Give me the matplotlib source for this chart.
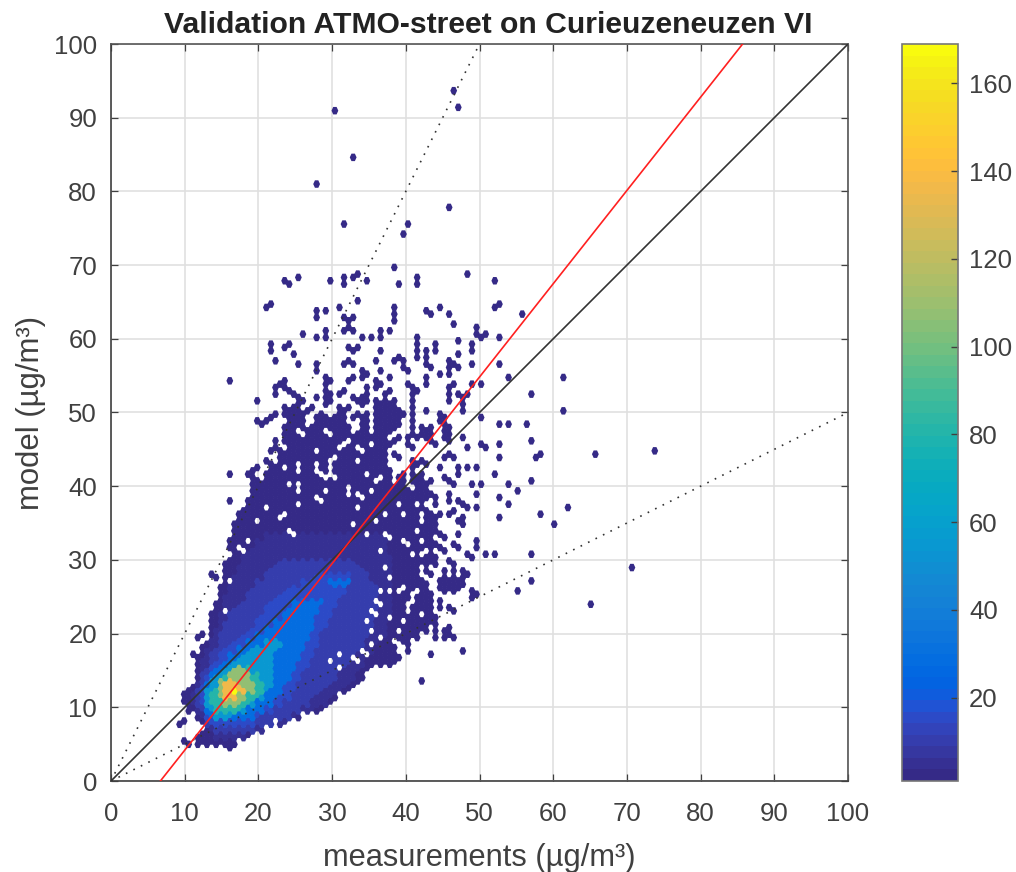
import numpy as np
import matplotlib
matplotlib.use('Agg')
import matplotlib.pyplot as plt
from matplotlib.colors import ListedColormap

plt.rcParams['font.family'] = ['Liberation Sans', 'DejaVu Sans']

# parula, 64 steps
parula = [
    [.2081, .1663, .5292], [.2116, .1898, .5777], [.2123, .2138, .6270], [.2081, .2386, .6771],
    [.1959, .2645, .7279], [.1707, .2919, .7792], [.1253, .3242, .8303], [.0591, .3598, .8683],
    [.0117, .3875, .8820], [.0060, .4086, .8828], [.0165, .4266, .8786], [.0329, .4430, .8720],
    [.0498, .4586, .8641], [.0629, .4737, .8554], [.0723, .4887, .8467], [.0779, .5040, .8384],
    [.0793, .5200, .8312], [.0749, .5375, .8263], [.0641, .5570, .8240], [.0488, .5772, .8228],
    [.0343, .5966, .8199], [.0265, .6137, .8135], [.0239, .6287, .8038], [.0231, .6418, .7913],
    [.0228, .6535, .7768], [.0267, .6642, .7607], [.0384, .6743, .7436], [.0590, .6838, .7254],
    [.0843, .6928, .7062], [.1133, .7015, .6859], [.1453, .7098, .6646], [.1801, .7177, .6424],
    [.2178, .7250, .6193], [.2586, .7317, .5954], [.3022, .7376, .5712], [.3482, .7424, .5473],
    [.3953, .7459, .5244], [.4420, .7481, .5033], [.4871, .7491, .4840], [.5300, .7491, .4661],
    [.5709, .7485, .4494], [.6099, .7473, .4337], [.6473, .7456, .4188], [.6834, .7435, .4044],
    [.7184, .7411, .3905], [.7525, .7384, .3768], [.7858, .7356, .3633], [.8185, .7327, .3498],
    [.8507, .7299, .3360], [.8824, .7274, .3217], [.9139, .7258, .3063], [.9450, .7261, .2886],
    [.9739, .7314, .2666], [.9938, .7455, .2403], [.9990, .7653, .2164], [.9955, .7861, .1967],
    [.9880, .8066, .1794], [.9789, .8271, .1633], [.9697, .8481, .1475], [.9626, .8705, .1309],
    [.9589, .8949, .1132], [.9598, .9218, .0948], [.9661, .9514, .0755], [.9763, .9831, .0538]]

# hexagon lattice of the density plot, in ug/m3
DX = 0.62
DY = 0.905

# filled stretches of the cloud: model value, then (from, to) in measurements
mass_rows = [
    (4.5, [(15.9, 16.2)]),
    (5.4, [(10, 10.4), (12, 12.3), (13.3, 17)]),
    (6.3, [(11.8, 12.6), (13.3, 18.5)]),
    (7.2, [(13, 20.5)]),
    (8.1, [(9.6, 10), (12.4, 21.6), (23, 23.5)]),
    (9.0, [(11.6, 24.5), (25, 25.6)]),
    (9.9, [(10.5, 26.6), (27.5, 28.5)]),
    (10.8, [(10, 29.5)]),
    (11.7, [(10.1, 30.5)]),
    (12.6, [(10.3, 11), (11.4, 32)]),
    (13.5, [(11.5, 33.5), (42, 42.3)]),
    (14.4, [(11.6, 34)]),
    (15.3, [(11.7, 34.5)]),
    (16.2, [(11.8, 35.5), (36, 37.5), (37.8, 38.5)]),
    (17.1, [(11.4, 11.7), (12.3, 36), (36.5, 39), (43.2, 43.4)]),
    (18.0, [(12.7, 37), (37.5, 38.5), (40, 40.3), (47.7, 48)]),
    (18.9, [(13, 38), (39.8, 40.6)]),
    (19.8, [(12, 12.5), (13.4, 39), (39.5, 41.5), (44, 44.2), (45.3, 46.5)]),
    (20.7, [(13.8, 38.5), (39.5, 43), (44, 44.3), (45.3, 45.8)]),
    (21.6, [(13.7, 39), (40, 41), (41.5, 43.8)]),
    (22.5, [(13.9, 39.5), (40, 41.5), (43, 44.3)]),
    (23.4, [(14.1, 39.5), (41, 42.5), (43, 43.5), (44.6, 44.8), (45.9, 46.2)]),
    (24.3, [(14.3, 39.8), (41.5, 43.3), (44.6, 44.8)]),
    (25.2, [(14.6, 40.5), (41.5, 42), (42.6, 43.3), (49, 49.3)]),
    (26.1, [(14.8, 39.8), (40, 41), (42.2, 43), (44.6, 45.8), (46.5, 47), (55, 55.2)]),
    (27.0, [(15.3, 41), (41.8, 42.5), (44.6, 45), (45.8, 46), (47, 48)]),
    (27.9, [(13.4, 14), (15.5, 41.5), (43.3, 43.6), (45.3, 45.5), (46.5, 46.7), (47.9, 48.1)]),
    (28.8, [(15.2, 40.5), (41, 41.5), (42.6, 43)]),
    (29.7, [(15.6, 41), (41.5, 42.5), (43, 44), (46, 46.2)]),
    (30.6, [(16.6, 40.5), (41.5, 41.8), (43, 44.2)]),
    (31.5, [(16.1, 40.5), (41, 42), (43.3, 43.5), (44.5, 45.2)]),
    (32.4, [(16.2, 40.5), (41, 41.4), (42.5, 44)]),
    (33.3, [(16.5, 40), (41, 42.5), (43, 43.5), (44.5, 45)]),
    (34.2, [(16.8, 39.5), (40.3, 41), (42, 43.8)]),
    (35.1, [(17, 39.5), (40.5, 41.5), (42.8, 43.8)]),
    (36.0, [(17.3, 39.3), (40, 41.5), (43, 44.5)]),
    (36.9, [(18, 39), (39.8, 41.5), (42, 43)]),
    (37.8, [(18.5, 38.6), (39.5, 41), (42, 42.4)]),
    (38.7, [(19, 38), (38.5, 40.8), (41.5, 43.8), (44, 44.3)]),
    (39.6, [(19, 37.8), (38.3, 40), (41.5, 43)]),
    (40.5, [(19.5, 38), (39, 39.8), (41, 43.5)]),
    (41.4, [(18.4, 19.2), (21.2, 38), (39, 39.5), (41, 42)]),
    (42.3, [(19.5, 19.8), (22, 23), (24, 37.8), (40.7, 41)]),
    (43.2, [(20.8, 22), (23, 25), (26, 27), (28, 29), (30.3, 37), (41, 42.5)]),
    (44.1, [(23, 24), (25, 27), (28, 29.5), (31, 32.5), (33, 37), (38.5, 39)]),
    (45.0, [(21.8, 23), (24, 27), (28.5, 30.5), (31.5, 33), (35, 37.5), (40.7, 41)]),
    (45.9, [(22.4, 22.6), (23.8, 25.5), (26, 28.5), (29, 31), (33, 35), (36, 37), (38, 38.5), (40, 40.5)]),
    (46.8, [(23.7, 25.5), (26.4, 27.3), (28.2, 29), (30.5, 32), (33, 34.6), (35.5, 37.3), (39, 39.2), (40.5, 43.6)]),
    (47.7, [(23.7, 25), (26, 27), (27.6, 28.7), (29.6, 32), (34, 35), (36, 36.7), (37.4, 38.7), (40.7, 41), (42, 43)]),
    (48.6, [(19.8, 21.2), (24.4, 26), (28, 29), (29.6, 31.5), (34, 35), (36.2, 37), (38, 39), (40.7, 41)]),
    (49.5, [(21.7, 22.6), (23.7, 26), (28, 29.4), (30.5, 31.9), (33, 35), (36, 37), (37.6, 39.5), (40.7, 41), (44.5, 45.5)]),
    (50.4, [(23.7, 25.6), (26.9, 27), (30.7, 32.1), (36, 39), (40.7, 41), (42.5, 42.7)]),
    (51.3, [(25.6, 25.8), (28.9, 29.1), (33.4, 34.8), (36, 38), (40.7, 41)]),
]

# single cells away from the cloud: measurements, model
loose_x = [30.2, 46.4, 47.1, 32.8, 27.6, 45.8, 31.5, 40.6, 39.9, 38.6, 48.4, 23.7, 24.3, 25.6, 29.5, 31.5, 31.5,
           32.8, 33.4, 34.7, 41.3, 41.3, 39.3, 52.3, 21.1, 21.7, 33.4, 27.6, 28.2, 28.9, 30.8, 31.5, 32.1, 32.8,
           38.6, 38.6, 38.6, 42.5, 43.2, 44.5, 45.8, 46.4, 52.3, 55.5, 31.5, 32.1, 32.8, 26.2, 28.2, 28.9, 28.9,
           34.1, 35.4, 36.7, 36.7, 38, 41.3, 41.3, 47, 49.7, 49.7, 50.3, 51, 52.9, 43.8, 49, 21.7, 23.7, 24.3,
           15.9, 15.9, 15.9, 21.8, 23.7, 24.4, 25, 32, 32.7, 33.4, 36.7, 41.3, 42.5, 43.8, 22.4, 25.6, 27.6, 28.1,
           31.4, 32, 32.7, 36, 38.6, 39.3, 41.3, 42.5, 43, 39.9, 44.5, 45.8, 45.8, 23.7, 29.1, 29.5, 34.1, 34.8,
           34.1, 32.5, 32.7, 36.7, 38, 42.5, 42.5, 22.4, 23, 23.7, 22.4, 24.4, 25, 28.9, 28.9, 28.9, 31.4, 30.7,
           30, 29.6, 36, 36.7, 36, 38, 37.4, 40, 40.7, 41.3, 19.8, 25.6, 27.6, 34.1, 33.4, 32.7, 34.1, 34.8, 34.8,
           36, 36.7, 37.4, 38.6, 40.7, 40.7,
           44.6, 42.6, 43.3, 45.9, 46.5, 52.4, 55.6, 47.2, 53, 44, 47.2, 49.2, 49.2, 39.4, 40, 41.3, 42.6, 42.6,
           43.3, 44.6, 45.9, 45.9, 46.5, 47.2, 52.4, 53.7, 50.4, 49.2, 61.5, 56.9, 61.5, 40, 40.7, 41.3, 42.6, 42.6,
           46.5, 45.9, 45.9, 45.9, 47.2, 47.8, 48.5, 47.8, 47.8, 42.6, 44.6, 45.3, 45.9, 43.3, 50.4, 52.4, 53.7,
           56.3, 45.3, 45.9, 45.3, 45.9, 47.8, 50.4, 52.4, 56.9, 48.5, 51.1, 52.4, 58.2, 66, 73.9, 44, 43.3,
           45.3, 45.9, 46.5, 47.2, 47.2, 46.5, 45.9, 45.3, 44.6, 48.5, 49.7, 49.2, 50.4, 49.7, 51.8, 53.7, 56.9,
           53, 55, 53.7, 62.1, 58.2, 60.2, 52.4, 49.7, 47.3, 47.8, 48.5, 45.9, 45.9, 44, 46.5, 45.9, 47.8, 47.2,
           47.8, 47.2, 49.7, 49.7, 46.5, 47.2, 51.8, 51.1, 48.5, 49.2, 56.9, 45.9, 45.3, 46.5, 47.9, 47.9, 47.2,
           46.5, 45.9, 44.6, 56.9, 70.6, 55, 49.2, 64.8, 45.9, 44.6, 44.6, 64.8, 57.5, 58.2]
loose_y = [91.4, 93.6, 91.4, 84.2, 80.6, 78, 75.3, 75.3, 73.9, 69.5, 69.1, 68.2, 67.7, 68.6, 67.7, 68.1, 67.2,
           68.2, 68.6, 67.7, 68.6, 67.7, 67.3, 68.1, 64.5, 65, 65, 63.6, 63.2, 63.6, 64.1, 62.8, 62.4, 62.8,
           64.2, 63.3, 62.3, 64.1, 63.6, 64.5, 63.6, 62.3, 64.5, 63.2, 61, 61.5, 61, 61, 60.6, 61, 60.1,
           60.1, 60.1, 61, 60.1, 61, 60.6, 59.7, 60.1, 61.8, 61, 60.6, 61, 60.6, 58.9, 58.9, 58.9, 59.2, 59.7,
           54.6, 41.2, 37.6, 58.7, 59.2, 59.6, 58.3, 58.7, 58.3, 58.7, 58.3, 58, 58, 58.7, 57.3, 56.8, 56.3, 55.9,
           56.3, 56.8, 56.3, 56.8, 56.8, 57.2, 58, 58, 56.3, 55.9, 55.4, 56.8, 55.4, 54.6, 55, 54.6, 55.4, 55,
           54.6, 54.2, 54.6, 55.4, 54.6, 55, 54.2, 53.8, 53.4, 53.8, 52.9, 52.9, 52.4, 54.2, 53.3, 52.4, 53.3, 52.9,
           52.4, 52, 54.2, 53.8, 53.3, 53.3, 52.4, 54.2, 53.8, 53.3, 52, 51.6, 52, 52.4, 52, 52, 51.6, 53.3, 52.4,
           51.6, 51.1, 51.1, 51.6, 52.2, 51.3,
           64.6, 64.1, 63.5, 63.6, 62.2, 64.6, 63.2, 60, 60.5, 58.7, 58.3, 58.7, 56.9, 57.4, 56, 57.8, 57.8, 56.9,
           56.4, 55.5, 56.4, 55.5, 56.9, 56.4, 56.4, 54.6, 54.2, 54.2, 54.6, 52.4, 50.1, 54.2, 53.7, 53.3, 55.1, 54.2,
           54.2, 53.7, 52.8, 51.9, 52.8, 52.4, 52.8, 51.5, 50.6, 50.6, 49.2, 48.7, 48.3, 48.3, 49.7, 48.3, 48.3,
           48.3, 47.4, 47.4, 46.5, 45.8, 47, 46, 45.7, 46.1, 44.8, 44.8, 43.9, 44.3, 44.3, 45.2, 45.4, 46.6,
           43.5, 44, 43.5, 42.2, 41.3, 40.6, 41.1, 41.5, 42.2, 42.1, 42.1, 40.7, 40.7, 39.3, 41.6, 40.2, 40.7,
           38.9, 39.4, 37.6, 37.1, 36.2, 34.9, 35.8, 36.7, 37.7, 37.2, 36.8, 38.6, 37.7, 37.2, 36.3, 35.8, 35.4, 35,
           34.5, 33.1, 32.2, 31.3, 31.8, 31.3, 30.9, 30.4, 30.4, 30, 30.9, 29.5, 28.2, 28.2, 28.2, 27.3, 26.8,
           26.5, 26.8, 26.8, 27.3, 28.6, 25.9, 25.4, 23.7, 23.2, 24.3, 23.2, 23.7, 44.3, 44.3]

# white gaps inside the cloud
hole_x = [27.7, 29, 28.4, 32.3, 32.3, 33.6, 34.2, 33.6, 32.9, 34.9, 34.9, 36.1, 37.4, 36.7, 37.4, 38.1, 37.5, 37.9,
          39.4, 40.1, 35.4, 35.8, 36.5, 28.8, 29.5, 30.2, 25.6, 25.6, 25.6, 33.6, 36.8, 36.1, 36.7, 35.5, 36.1, 34.9,
          38.1, 35.5, 35.5, 36.7, 34.2, 34.9, 31, 29.6, 31, 32.9, 33.6, 38.1, 38.8, 39.4, 24.4, 25.6, 28.9, 32.1,
          32.1, 28.2, 25.5, 21.1, 23, 23.7, 33.4, 32.8, 24.3, 18.1, 18.7, 17.1, 33.4, 34, 35.9, 37.3, 34.8, 36.6,
          37.3, 38, 28, 28.9, 30, 27.6, 34.8, 29.8, 30, 16, 15.2, 15.2, 19.9, 12, 24.5]
hole_y = [43, 39.5, 38, 39.9, 39, 39, 38.6, 37.1, 34.9, 41.6, 33.6, 35.4, 36.3, 31.3, 29.1, 27.7, 33.4, 32.7,
          32.2, 31.7, 39.5, 40.4, 40.8, 41.7, 42, 41.3, 42.4, 37.2, 39.7, 43.3, 25.9, 24.6, 24.1, 23.2, 22.8, 22,
          22.4, 20.6, 18.8, 19.6, 17.9, 17.4, 17.4, 16.5, 15.6, 16.4, 16, 25.9, 25.7, 25.9, 39.9, 39.9, 39.5, 39.9,
          39, 38.1, 37.2, 36.7, 36.1, 36.6, 38.8, 34.9, 33.6, 31.5, 32.7, 31.3, 38.8, 38.3, 35.4, 36.3, 33.6, 31.3,
          29.1, 27.7, 41.9, 41.5, 41.3, 43, 41.6, 43.5, 42.6, 26.9, 23.4, 22.7, 35, 7, 33.5]

# density bands, lightest first: count per cell, then (model, from, to)
band_5 = [(6.3, 14, 18), (7.2, 13.5, 21), (8.1, 13, 23.5), (9, 12.3, 25), (9.9, 11.8, 27), (10.8, 11, 29), (11.7, 11, 30),
          (12.6, 11.8, 31), (13.5, 12, 32.5), (14.4, 12.2, 33), (15.3, 12.3, 33.5), (16.2, 12.6, 34), (17.1, 13, 35),
          (18, 13.3, 35.5), (18.9, 13.7, 36), (19.8, 14, 37), (20.7, 14.5, 37), (21.6, 14.6, 37.5), (22.5, 15, 38),
          (23.4, 15.2, 38), (24.3, 15.5, 38), (25.2, 15.8, 38), (26.1, 16, 38), (27, 16.6, 38), (27.9, 17, 38),
          (28.8, 17.2, 38), (29.7, 17.8, 38), (30.6, 18, 38), (31.5, 19, 37.5), (32.4, 20, 37), (33.3, 21, 37)]
band_9 = [(7.2, 14, 19), (8.1, 13.2, 22), (9, 12.8, 24), (9.9, 12.3, 25.5), (10.8, 11.9, 26.5), (11.7, 11.8, 27.5),
          (12.6, 11.9, 28.5), (13.5, 12.2, 29.5), (14.4, 12.5, 30.5), (15.3, 13, 31), (16.2, 13.4, 32), (17.1, 13.8, 33),
          (18, 14.3, 33.5), (18.9, 14.7, 34), (19.8, 15, 34.5), (20.7, 15.3, 35), (21.6, 15.8, 35.5), (22.5, 16.3, 36),
          (23.4, 17, 36), (24.3, 17.8, 36), (25.2, 18.5, 36), (26.1, 19, 36), (27, 20, 35.5), (27.9, 21, 35),
          (28.8, 22, 34), (29.7, 23, 33)]
band_16 = [(8.1, 13.5, 19), (9, 13.2, 20), (9.9, 12.8, 22), (10.8, 12.5, 23), (11.7, 12.4, 24), (12.6, 12.5, 24.5),
           (13.5, 12.8, 25), (14.4, 13.2, 25.5), (15.3, 13.8, 26), (16.2, 14.5, 26.5), (17.1, 15, 27), (18, 15.8, 27.5),
           (18.9, 17, 27.8), (19.8, 18, 28), (20.7, 19, 28.5), (21.6, 20, 29), (22.5, 20.5, 29.5), (23.4, 21, 30),
           (24.3, 22, 30.5), (25.2, 23, 31), (26.1, 24, 31.5), (27, 26, 32), (27.9, 28, 32.5)]
band_28 = [(9, 13.8, 19), (9.9, 13.2, 20.5), (10.8, 13, 21.5), (11.7, 13, 22.5), (12.6, 13, 23), (13.5, 13.3, 23.5),
           (14.4, 13.8, 24), (15.3, 14.5, 24.5), (16.2, 15.2, 25), (17.1, 16.2, 25.5), (18, 17.2, 26), (18.9, 18.5, 26),
           (19.8, 20, 26.5), (20.7, 21, 27), (21.6, 22.5, 27), (22.5, 23.5, 27.5), (23.4, 24, 28), (24.3, 25, 28.5),
           (27, 30, 32)]
band_55 = [(9, 14.3, 16.2), (9.9, 13.4, 18), (10.8, 13, 19.3), (11.7, 13, 20.7), (12.6, 13.2, 21.3), (13.5, 13.7, 21.6),
           (14.4, 14.3, 21.8), (15.3, 15.7, 21.6), (16.2, 17, 21.5), (17.1, 18, 22), (18, 19.5, 22.5), (18.9, 21, 23)]
band_80 = [(9.9, 14.3, 17.3), (10.8, 13.7, 18.6), (11.7, 13.9, 19.8), (12.6, 14.1, 20.4), (13.5, 14.6, 20.4),
           (14.4, 15.7, 19.8), (15.3, 17, 18.9)]
band_108 = [(10.8, 15.2, 17.3), (11.7, 14.6, 18), (12.6, 14.8, 19.1), (13.5, 15, 19.3), (14.4, 16.1, 18.9), (15.3, 16.8, 17.7)]
band_135 = [(11.7, 15.5, 17), (12.6, 15.7, 18.2), (13.5, 15.2, 16.5)]
peak_x = [16.6]
peak_y = [12.1]
peak_count = [169]

# diagonals through the origin and the fitted line
ref_x = [0, 100]
one_to_one = [0, 100]
twice_x = [0, 50]
twice_y = [0, 100]
half_y = [0, 50]
fit_x = [6.7, 85.7]
fit_y = [0, 100]

ticks = list(range(0, 101, 10))
cbar_ticks = list(range(20, 161, 20))


def cell_of(x, y):
    i = int(round(x / DX))
    j = int(round((y - (i % 2) * DY / 2) / DY))
    return i, j


def cell_center(i, j):
    return i * DX, j * DY + (i % 2) * DY / 2


def fill_span(cells, y, x0, x1, count):
    for i in range(int(round(x0 / DX)), int(round(x1 / DX)) + 1):
        cells[cell_of(i * DX, y)] = count


cells = {}
for y, spans in mass_rows:
    for x0, x1 in spans:
        fill_span(cells, y, x0, x1, 2)
for x, y in zip(hole_x, hole_y):
    cells.pop(cell_of(x, y), None)
for x, y in zip(loose_x, loose_y):
    cells[cell_of(x, y)] = 1
for count, band in [(5, band_5), (9, band_9), (16, band_16), (28, band_28), (55, band_55),
                    (80, band_80), (108, band_108), (135, band_135)]:
    for y, x0, x1 in band:
        for i in range(int(round(x0 / DX)), int(round(x1 / DX)) + 1):
            key = cell_of(i * DX, y)
            if key in cells:
                cells[key] = count
for x, y, c in zip(peak_x, peak_y, peak_count):
    cells[cell_of(x, y)] = c

keys = list(cells)
xs = [cell_center(*k)[0] for k in keys]
ys = [cell_center(*k)[1] for k in keys]
vals = [cells[k] for k in keys]

fig = plt.figure(figsize=(10.16, 8.72), dpi=100)
ax = fig.add_axes([111 / 1016, 1 - 781 / 872, 737 / 1016, 737 / 872])
dark = '#404040'

hexagon = [(-1, 0), (-.5, 1.1), (.5, 1.1), (1, 0), (.5, -1.1), (-.5, -1.1)]
sc = ax.scatter(xs, ys, c=vals, s=29, marker=hexagon, cmap=ListedColormap(parula),
                vmin=1, vmax=169, linewidths=0, zorder=2)

ax.plot(ref_x, one_to_one, color='#333333', lw=1.2, zorder=3)
ax.plot(twice_x, twice_y, color='#333333', lw=1.2, ls=(0, (1, 4)), zorder=3)
ax.plot(ref_x, half_y, color='#333333', lw=1.2, ls=(0, (1, 4)), zorder=3)
ax.plot(fit_x, fit_y, color='#ff2020', lw=1.2, zorder=4)

ax.set_xlim(0, 100)
ax.set_ylim(0, 100)
ax.set_xticks(ticks)
ax.set_yticks(ticks)
ax.grid(True, color='#e0e0e0', lw=1.2)
ax.set_axisbelow(True)
ax.tick_params(direction='in', length=5, width=0.9, color=dark, labelcolor=dark, labelsize=18.5,
               top=True, right=True)
ax.tick_params(axis='x', pad=15)
ax.tick_params(axis='y', pad=10)
for side in ax.spines.values():
    side.set_color(dark)
    side.set_linewidth(1.2)
ax.spines['top'].set_color('#555555')
ax.spines['right'].set_color('#555555')

ax.set_xlabel('measurements (µg/m³)', fontsize=22.2, color=dark, labelpad=12)
ax.set_ylabel('model (µg/m³)', fontsize=22.4, color=dark, labelpad=6)
ax.set_title('Validation ATMO-street on Curieuzeneuzen VI', fontsize=21.7, fontweight='bold', color='#222222',
             pad=8, x=0.512)

cax = fig.add_axes([902 / 1016, 1 - 781 / 872, 56 / 1016, 737 / 872])
cb = fig.colorbar(sc, cax=cax)
cb.set_ticks(cbar_ticks)
cb.ax.tick_params(direction='in', length=5, width=1.0, color=dark, labelcolor=dark, labelsize=18.5, pad=8)
cb.outline.set_edgecolor('#777777')
cb.outline.set_linewidth(1.2)

fig.savefig('out.png', dpi=100)
